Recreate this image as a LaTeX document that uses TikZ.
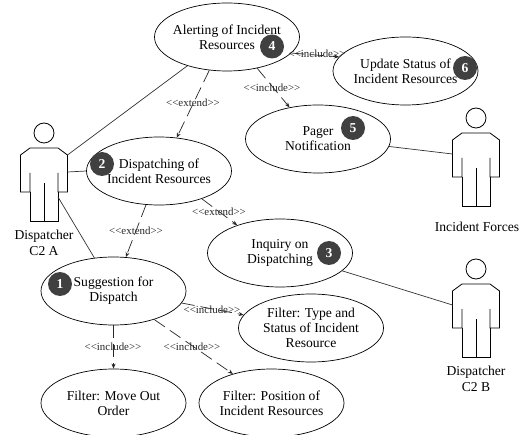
\documentclass[tikz,border=0pt]{standalone}
\usepackage{fontspec}
\setmainfont{Liberation Serif}
\usetikzlibrary{shapes.geometric,arrows.meta}
\tikzset{
  uc/.style={draw=black,ellipse,minimum width=145pt,minimum height=68pt,inner xsep=-10pt,inner ysep=0pt,align=center,font=\fontsize{13.6}{15}\selectfont,line width=.7pt},
  badge/.style={circle,fill=black!75,text=white,minimum size=24pt,inner sep=0pt,font=\fontsize{13.6}{14}\selectfont\bfseries},
  rel/.style={line width=.7pt,draw=black!85,dash pattern=on 13pt off 6pt,-{Stealth[length=5pt,width=4pt]}},
  assoc/.style={line width=.7pt,draw=black!80},
  lab/.style={font=\fontsize{10.9}{12}\selectfont,inner sep=0pt,text=black!85},
  captext/.style={font=\fontsize{13.6}{15.5}\selectfont,align=center,inner sep=0pt},
  fig/.style={line width=.8pt,draw=black}
}
\newcommand{\stick}[4]{% name, head x, head y, leg length from head
  \begin{scope}[shift={(#2,#3)}]
    \draw[fig] (0,0) circle (10);
    \draw[fig] (-14,15) -- (14,15) -- (23.5,22) -- (23.5,59) -- (14,59) -- (14,40);
    \draw[fig] (-14,15) -- (-23.5,22) -- (-23.5,59) -- (-14,59) -- (-14,40);
    \draw[fig] (-14,59) -- (-14,88) -- (14,88) -- (14,59);
    \draw[fig] (0,50) -- (0,88);
    \coordinate (#1top) at (23.5,22);
    \coordinate (#1mid) at (23.5,39);
    \coordinate (#1low) at (14,64);
    \coordinate (#1lefta) at (-23.5,36);
  \end{scope}}
\begin{document}
\begin{tikzpicture}[x=1pt,y=-1pt]
\useasboundingbox (0,0) rectangle (521,435);
\node[uc] (alert) at (227,37) {Alerting of Incident\\Resources};
\node[uc] (update) at (405.5,71) {Update Status of\\Incident Resources};
\node[uc] (pager) at (318,139) {Pager\\Notification};
\node[uc] (disp) at (159,171) {Dispatching of\\Incident Resources};
\node[uc] (inq) at (280,253) {Inquiry on\\Dispatching};
\node[uc] (sug) at (113.5,291) {Suggestion for\\Dispatch};
\node[uc] (ftype) at (311,328) {Filter: Type and\\Status of Incident\\Resource};
\node[uc] (fmove) at (113.5,403) {Filter: Move Out\\Order};
\node[uc] (fpos) at (271.5,403) {Filter: Position of\\Incident Resources};
\node[badge] (b4) at (272,46.5) {4};
\node[badge] (b6) at (465,68) {6};
\node[badge] (b5) at (353,128) {5};
\node[badge] (b2) at (102,164) {2};
\node[badge] (b3) at (329,253) {3};
\node[badge] (b1) at (60,284) {1};
\stick{aa}{44}{133}{}
\stick{ab}{476}{118}{}
\stick{ac}{476}{269}{}
\node[captext] (ca) at (44,243) {Dispatcher\\C2 A};
\node[captext] (cb) at (477,227) {Incident Forces};
\node[captext] (cc) at (476,379) {Dispatcher\\C2 B};
\draw[assoc] (aatop) -- (alert.216.6);
\draw[assoc] (aamid) -- (disp.180);
\draw[assoc] (aalow) -- (sug.120.6);
\draw[assoc] (pager.-6.3) -- (ablefta);
\draw[assoc] (inq.-16) -- (aclefta);
\draw[rel] (alert.242.7) -- (disp.62);
\draw[rel] (disp.249) -- (sug.70);
\draw[rel] (disp.-33.7) -- (inq.147);
\draw[rel] (alert.-46) -- (pager.132);
\draw[rel] (alert.-14) -- (update.168);
\draw[rel] (sug.-10.7) -- (ftype.169);
\draw[rel] (sug.270) -- (fmove.90);
\draw[rel] (sug.-35) -- (fpos.143);
\node[lab] (l1) at (193,103) {<{}<extend>{}>};
\node[lab] (l2) at (219,212) {<{}<extend>{}>};
\node[lab] (l3) at (136,230.5) {<{}<extend>{}>};
\node[lab] (l4) at (272,87.5) {<{}<include>{}>};
\node[lab] (l5) at (317,53.5) {<{}<include>{}>};
\node[lab] (l6) at (212,310) {<{}<include>{}>};
\node[lab] (l7) at (113,346.5) {<{}<include>{}>};
\node[lab] (l8) at (192,346.5) {<{}<include>{}>};
\end{tikzpicture}
\end{document}
